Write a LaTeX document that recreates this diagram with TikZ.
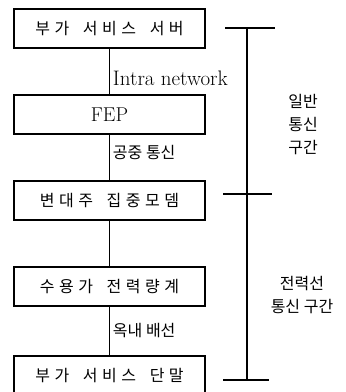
\documentclass[tikz,border=0pt]{standalone}
\usepackage{fontspec}
\newfontfamily\kr{Noto Sans CJK KR}
\newfontfamily\krwide[LetterSpace=28,WordSpace=1.7]{Noto Sans CJK KR}

\begin{document}
\begin{tikzpicture}[x=1pt,y=-1pt,auto,node distance=86pt,line width=1pt]
    \tikzset{sysbox/.style={draw,line width=1.3pt,minimum width=191pt,minimum height=39pt,inner sep=0pt,font=\krwide\fontsize{16}{18}\selectfont},
             link/.style={font=\kr\fontsize{16}{18}\selectfont,inner sep=3pt},
             zone/.style={font=\kr\fontsize{16}{23}\selectfont,align=center}}

    \clip (0,0) rectangle (346,392);

    \node[sysbox] (server) at (109.5,28.5) {부가 서비스 서버};
    \node[sysbox] (fep)    [below of=server] {\rmfamily\fontsize{20}{22}\selectfont FEP};
    \node[sysbox] (modem)  [below of=fep]    {변대주 집중모뎀};
    \node[sysbox] (meter)  [below of=modem]  {수용가 전력량계};
    \node[sysbox] (term)   [below of=meter, node distance=89pt] {부가 서비스 단말};

    \path (server) edge node[link,pos=.64] {\rmfamily\fontsize{21}{23}\selectfont Intra network} (fep);
    \path (fep)    edge node[link,pos=.4]  {공중 통신} (modem);
    \path (modem)  edge                    (meter);
    \path (meter)  edge node[link]         {옥내 배선} (term);

    % bracket
    \coordinate (btop) at (247,28);
    \coordinate (bmid) at (247,194);
    \coordinate (bbot) at (247,380);
    \draw[line width=1.3pt] (btop) -- (bbot);
    \draw[line width=1.3pt] ([xshift=-22pt]btop) -- ([xshift=28pt]btop);
    \draw[line width=1.3pt] ([xshift=-24pt]bmid) -- ([xshift=25pt]bmid);
    \draw[line width=1.3pt] ([xshift=-24pt]bbot) -- ([xshift=22pt]bbot);

    \node[zone] (general) at (303,125) {일반\\통신\\구간};
    \node[zone] (plc)     at (302,295) {전력선\\통신 구간};
\end{tikzpicture}
\end{document}
